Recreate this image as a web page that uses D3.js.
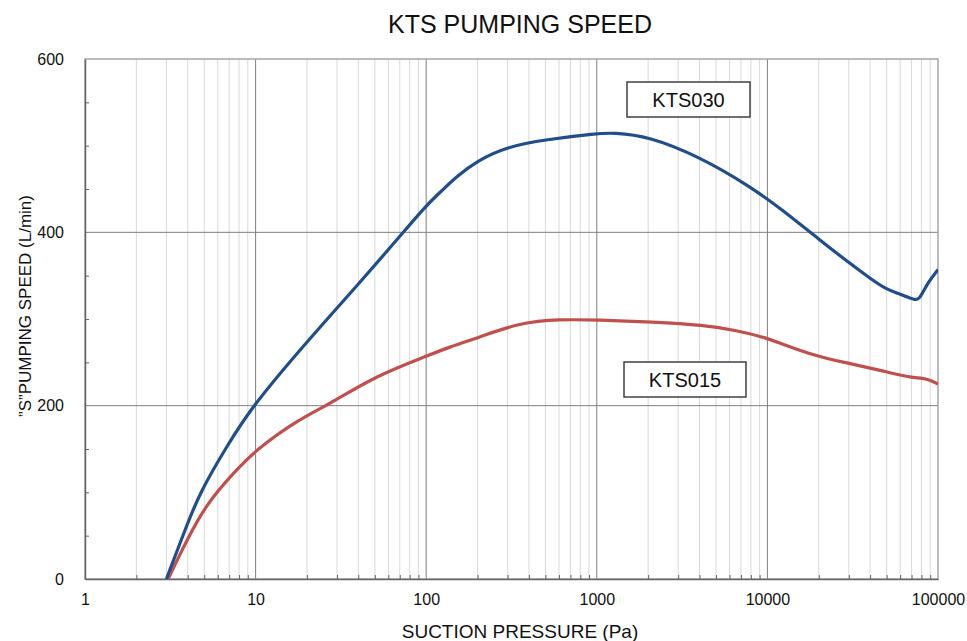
<!DOCTYPE html>
<html>
<head>
<meta charset="utf-8">
<script src="https://cdn.jsdelivr.net/npm/d3@7"></script>
<style>
  body { margin: 0; background: #fff; }
  svg { font-family: "Liberation Sans", Arial, sans-serif; }
</style>
</head>
<body>
<div id="chart"></div>
<script>
// values
var pressure030 = [3.0, 3.95, 4.72, 6.77, 9.6, 20, 40, 73.4, 100, 125, 150, 200, 300, 500, 1000, 1245, 2000, 4025, 7910, 11850, 20330, 30500, 39900, 50000, 59600, 74300, 78400, 87800, 100000];
var speed030    = [0, 62, 100, 153, 200, 274, 340, 400, 431, 449, 464, 483, 499, 507, 514, 515, 511, 487, 453, 428, 391, 364, 347, 334, 329, 321, 324, 343, 357];

var pressure015 = [3.07, 3.95, 5.17, 7.4, 10, 18.2, 26.1, 51.3, 100, 138, 198, 355, 609, 1000, 2145, 4210, 6610, 9950, 11850, 20000, 30000, 50000, 70000, 85000, 100000];
var speed015    = [0, 45, 87, 122, 149, 185, 200, 235, 257, 268, 278, 296, 299.6, 299, 296.5, 293, 287, 278, 272, 256, 249, 239, 232, 232, 225];

var xTicks = [1, 10, 100, 1000, 10000, 100000];
var yTicks = [0, 200, 400, 600];
var yMinor = [50, 100, 150, 250, 300, 350, 450, 500, 550];

var W = 967, H = 641;
var pL = 85, pT = 59, pR = 938, pB = 579;

var svg = d3.select("#chart").append("svg")
    .attr("width", W)
    .attr("height", H);

var x = d3.scaleLog().domain([1, 100000]).range([pL, pR]);
var y = d3.scaleLinear().domain([0, 600]).range([pB, pT]);

// minor log positions 2..9 in each decade
var xMinor = [];
xTicks.slice(0, -1).forEach(function (d) {
    for (var k = 2; k <= 9; k++) xMinor.push(d * k);
});

var grid = svg.append("g");
grid.selectAll("line.minor")
    .data(xMinor)
    .join("line")
    .attr("class", "minor")
    .attr("x1", d => x(d)).attr("x2", d => x(d))
    .attr("y1", pT).attr("y2", pB)
    .attr("stroke", "#d9d9d9")
    .attr("stroke-width", 1);

grid.selectAll("line.vmajor")
    .data(xTicks.slice(1, -1))
    .join("line")
    .attr("class", "vmajor")
    .attr("x1", d => x(d)).attr("x2", d => x(d))
    .attr("y1", pT).attr("y2", pB)
    .attr("stroke", "#7f7f7f")
    .attr("stroke-width", 1);

grid.selectAll("line.hmajor")
    .data(yTicks.slice(1, -1))
    .join("line")
    .attr("class", "hmajor")
    .attr("x1", pL).attr("x2", pR)
    .attr("y1", d => y(d)).attr("y2", d => y(d))
    .attr("stroke", "#7f7f7f")
    .attr("stroke-width", 1);

// frame
svg.append("rect")
    .attr("x", pL).attr("y", pT)
    .attr("width", pR - pL).attr("height", pB - pT)
    .attr("fill", "none")
    .attr("stroke", "#a6a6a6")
    .attr("stroke-width", 1.5);

// axes
var xAxis = svg.append("g")
    .attr("transform", "translate(0," + pB + ")")
    .call(d3.axisBottom(x).tickValues(xTicks).tickFormat(d3.format("d")).tickSize(0).tickPadding(15));
xAxis.select(".domain").attr("stroke", "#666").attr("stroke-width", 1.5);
xAxis.selectAll("text").attr("font-size", 16).attr("fill", "#111").attr("font-family", null);

var xMinorAxis = svg.append("g")
    .attr("transform", "translate(0," + pB + ")")
    .call(d3.axisBottom(x).tickValues(xMinor).tickFormat("").tickSize(-4));
xMinorAxis.select(".domain").remove();
xMinorAxis.selectAll("line").attr("stroke", "#666");

var yAxis = svg.append("g")
    .attr("transform", "translate(" + pL + ",0)")
    .call(d3.axisLeft(y).tickValues(yTicks).tickSize(0).tickPadding(21));
yAxis.select(".domain").attr("stroke", "#666").attr("stroke-width", 1.5);
yAxis.selectAll("text").attr("font-size", 16).attr("fill", "#111").attr("font-family", null);

var yMinorAxis = svg.append("g")
    .attr("transform", "translate(" + pL + ",0)")
    .call(d3.axisLeft(y).tickValues(yMinor).tickFormat("").tickSize(-4));
yMinorAxis.select(".domain").remove();
yMinorAxis.selectAll("line").attr("stroke", "#666");

// curves
var line = d3.line()
    .x(d => x(d[0]))
    .y(d => y(d[1]))
    .curve(d3.curveBasis);

svg.append("clipPath").attr("id", "plot")
    .append("rect").attr("x", pL).attr("y", pT)
    .attr("width", pR - pL).attr("height", pB - pT);

svg.append("path")
    .datum(d3.zip(pressure015, speed015))
    .attr("d", line)
    .attr("fill", "none")
    .attr("stroke", "#c0504d")
    .attr("stroke-width", 3.2)
    .attr("clip-path", "url(#plot)");

svg.append("path")
    .datum(d3.zip(pressure030, speed030))
    .attr("d", line)
    .attr("fill", "none")
    .attr("stroke", "#1f4e8a")
    .attr("stroke-width", 3.2)
    .attr("clip-path", "url(#plot)");

// series labels
function label(text, x0, y0, w, h) {
    svg.append("rect")
        .attr("x", x0).attr("y", y0)
        .attr("width", w).attr("height", h)
        .attr("fill", "#fff")
        .attr("stroke", "#404040")
        .attr("stroke-width", 1.5);
    svg.append("text")
        .attr("x", x0 + w / 2)
        .attr("y", y0 + h / 2 + 7)
        .attr("text-anchor", "middle")
        .attr("font-size", 20)
        .attr("fill", "#111")
        .text(text);
}
label("KTS030", 627, 82, 123, 35);
label("KTS015", 624, 362, 122, 35);

// titles
svg.append("text")
    .attr("x", 520).attr("y", 33)
    .attr("text-anchor", "middle")
    .attr("font-size", 25)
    .attr("fill", "#111")
    .text("KTS PUMPING SPEED");

svg.append("text")
    .attr("x", 520).attr("y", 638)
    .attr("text-anchor", "middle")
    .attr("font-size", 19)
    .attr("fill", "#111")
    .text("SUCTION PRESSURE (Pa)");

svg.append("text")
    .attr("transform", "translate(31,306) rotate(-90)")
    .attr("text-anchor", "middle")
    .attr("font-size", 17)
    .attr("fill", "#111")
    .text("”S”PUMPING SPEED (L/min)");
</script>
</body>
</html>
